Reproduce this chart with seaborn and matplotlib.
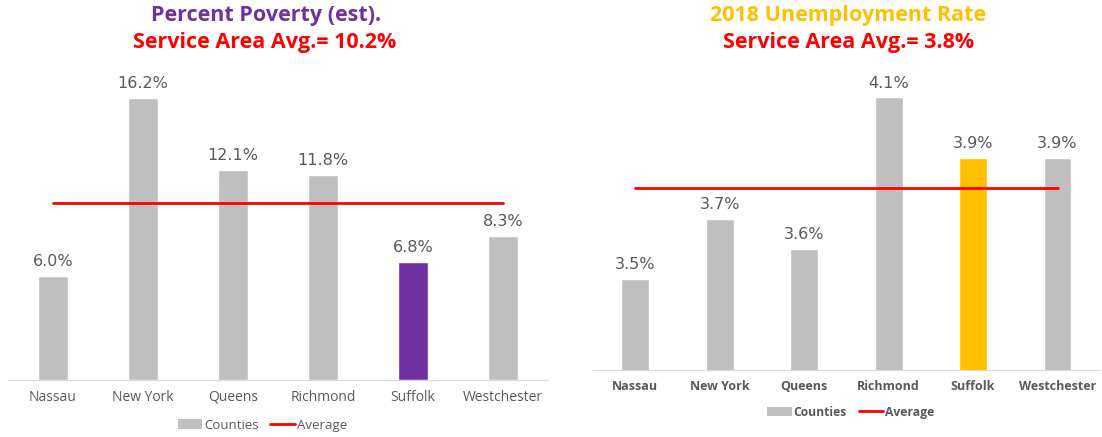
import numpy as np
import pandas as pd
import matplotlib
matplotlib.use('Agg')
import matplotlib.pyplot as plt
import seaborn as sns
from matplotlib.patches import Patch
from matplotlib.lines import Line2D

# Data
counties = ['Nassau', 'New York', 'Queens', 'Richmond', 'Suffolk', 'Westchester']
poverty = [6.0, 16.2, 12.1, 11.8, 6.8, 8.3]
poverty_avg = 10.2
unemployment = [3.5, 3.7, 3.6, 4.1, 3.9, 3.9]
unemployment_avg = 3.8

gray = '#BFBFBF'
purple = '#7030A0'
gold = '#FFC000'
red = '#FF0000'

sns.set_style('white')
plt.rcParams['font.family'] = ['Open Sans', 'DejaVu Sans']

fig = plt.figure(figsize=(11.02, 4.37), dpi=100)
ax1 = fig.add_axes([0.0073, 0.1304, 0.49, 0.716])
ax2 = fig.add_axes([0.538, 0.1533, 0.46, 0.693])


def draw_panel(ax, values, avg, highlight, ymin, ymax, bold_ticks, tick_size, label_size):
    df = pd.DataFrame({'County': counties, 'Value': values})
    pal = [highlight if c == 'Suffolk' else gray for c in counties]
    sns.barplot(data=df, x='County', y='Value', hue='County', palette=pal,
                width=0.33, legend=False, ax=ax, saturation=1)
    ax.plot(range(len(counties)), [avg] * len(counties), color=red, lw=2)
    ax.set_ylim(ymin, ymax)
    ax.set_xlim(-0.5, len(counties) - 0.5)
    for cont in ax.containers:
        ax.bar_label(cont, labels=['%.1f%%' % v for v in cont.datavalues],
                     padding=5, fontsize=label_size, color='#595959',
                     family='DejaVu Sans')
    ax.set_yticks([])
    ax.set_xlabel('')
    ax.set_ylabel('')
    for s in ['top', 'left', 'right']:
        ax.spines[s].set_visible(False)
    ax.spines['bottom'].set_color('#D9D9D9')
    ax.tick_params(axis='x', length=0, pad=7, labelsize=tick_size, labelcolor='#595959')
    if bold_ticks:
        for t in ax.get_xticklabels():
            t.set_fontweight('bold')


draw_panel(ax1, poverty, poverty_avg, purple, 0, 18, False, 10, 11.5)
draw_panel(ax2, unemployment, unemployment_avg, gold, 3.2, 4.2, True, 9, 11.5)

# Titles
fig.text(0.241, 0.965, 'Percent Poverty (est).', ha='center', va='center',
         fontsize=15.5, fontweight='bold', color=purple)
fig.text(0.24, 0.903, 'Service Area Avg.= 10.2%', ha='center', va='center',
         fontsize=15.5, fontweight='bold', color=red)
fig.text(0.770, 0.965, '2018 Unemployment Rate', ha='center', va='center',
         fontsize=15.5, fontweight='bold', color=gold)
fig.text(0.770, 0.903, 'Service Area Avg.= 3.8%', ha='center', va='center',
         fontsize=15.5, fontweight='bold', color=red)

# Legends
handles = [Patch(facecolor=gray, edgecolor='none'), Line2D([0], [0], color=red, lw=2)]
names = ['Counties', 'Average']
leg1 = fig.legend(handles, names, loc='center', bbox_to_anchor=(0.238, 0.027), ncol=2,
                  frameon=False, handlelength=1.85, handletextpad=0.15,
                  columnspacing=0.9, prop={'size': 9.5})
for t in leg1.get_texts():
    t.set_color('#595959')
leg2 = fig.legend(handles, names, loc='center', bbox_to_anchor=(0.772, 0.057), ncol=2,
                  frameon=False, handlelength=2.0, handletextpad=0.15,
                  columnspacing=1.0, prop={'weight': 'bold', 'size': 8.7})
for t in leg2.get_texts():
    t.set_color('#595959')

fig.savefig('out.png', dpi=100)
